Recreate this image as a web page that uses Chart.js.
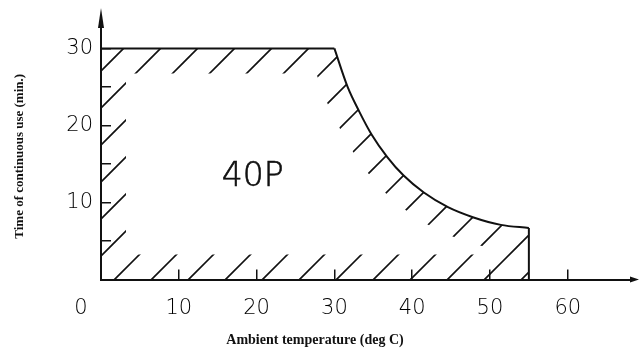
<!DOCTYPE html>
<html>
<head>
<meta charset="utf-8">
<script src="https://cdn.jsdelivr.net/npm/chart.js@4"></script>
<style>
  html, body { margin:0; padding:0; background:#fff; }
</style>
</head>
<body>
<canvas id="myChart" width="640" height="360"></canvas>
<script>
// top flat limit, curved derating and the drop at 55 deg C
let topTemp = [0, 30];
let topTime = [30, 30];
let curveTemp = [30, 31.7, 33.2, 34.8, 36.8, 38.9, 41.5, 44.6, 47.8, 51.4, 55];
let curveTime = [30, 25.0, 21.8, 18.8, 15.9, 13.5, 11.3, 9.4, 8.1, 7.1, 6.7];
let dropTemp = [55, 55];
let dropTime = [6.7, 0];

let xTicks = [0, 10, 20, 30, 40, 50, 60];
let yTicks = [5, 10, 15, 20, 25, 30];
let regionLabel = '40P';
let labelAt = {x: 19.5, y: 13.2};

let ink = '#111';
let thin = "'DejaVu Sans', sans-serif";
let serif = "'Liberation Serif', 'DejaVu Serif', serif";

function pairs(xs, ys){
  return xs.map((v, i) => ({x: v, y: ys[i]}));
}

function makeHatch(ctx){
  let c = document.createElement('canvas');
  c.width = 37; c.height = 37;
  let g = c.getContext('2d');
  g.strokeStyle = ink;
  g.lineWidth = 1.6;
  g.beginPath();
  g.moveTo(-5, 29); g.lineTo(29, -5);
  g.moveTo(18, 43); g.lineTo(43, 18);
  g.stroke();
  return ctx.createPattern(c, 'repeat');
}

let hatchPlugin = {
  id: 'hatch',
  afterDatasetsDraw(chart){
    let {ctx, scales: {x, y}} = chart;
    let pts = chart.getDatasetMeta(1).data;
    ctx.save();
    ctx.beginPath();
    ctx.moveTo(x.getPixelForValue(0), y.getPixelForValue(0));
    ctx.lineTo(x.getPixelForValue(topTemp[0]), y.getPixelForValue(topTime[0]));
    ctx.lineTo(x.getPixelForValue(topTemp[1]), y.getPixelForValue(topTime[1]));
    ctx.lineTo(pts[0].x, pts[0].y);
    for(let i = 1; i < pts.length; i++){
      let p = pts[i-1], c = pts[i];
      ctx.bezierCurveTo(p.cp2x, p.cp2y, c.cp1x, c.cp1y, c.x, c.y);
    }
    ctx.lineTo(x.getPixelForValue(dropTemp[1]), y.getPixelForValue(dropTime[1]));
    ctx.closePath();
    ctx.clip();
    ctx.lineWidth = 50;
    ctx.lineJoin = 'round';
    ctx.strokeStyle = makeHatch(ctx);
    ctx.stroke();
    ctx.restore();

    // region name
    ctx.save();
    ctx.fillStyle = ink;
    ctx.strokeStyle = ink;
    ctx.lineWidth = 0.6;
    ctx.font = '200 33px ' + thin;
    ctx.textAlign = 'center';
    ctx.textBaseline = 'middle';
    let lx = x.getPixelForValue(labelAt.x), ly = y.getPixelForValue(labelAt.y);
    ctx.fillText(regionLabel, lx, ly);
    ctx.strokeText(regionLabel, lx, ly);
    ctx.restore();
  }
};

let arrowPlugin = {
  id: 'arrows',
  afterDraw(chart){
    let {ctx, chartArea: a} = chart;
    ctx.save();
    ctx.strokeStyle = ink;
    ctx.fillStyle = ink;
    ctx.lineWidth = 2;
    // y axis arrow
    ctx.beginPath();
    ctx.moveTo(a.left, a.top);
    ctx.lineTo(a.left, a.top - 10);
    ctx.stroke();
    ctx.beginPath();
    ctx.moveTo(a.left, a.top - 25);
    ctx.lineTo(a.left - 3, a.top - 5);
    ctx.lineTo(a.left + 3, a.top - 5);
    ctx.closePath();
    ctx.fill();
    // x axis arrow
    ctx.beginPath();
    ctx.moveTo(a.right, a.bottom);
    ctx.lineTo(a.right + 9, a.bottom);
    ctx.lineTo(a.right, a.bottom - 3);
    ctx.lineTo(a.right, a.bottom + 3);
    ctx.lineTo(a.right + 9, a.bottom);
    ctx.fill();
    ctx.restore();
  }
};

let lineStyle = {borderColor: ink, backgroundColor: ink, borderWidth: 2, pointRadius: 0, fill: false, tension: 0};

let settings = {
  type: 'line',
  data: {
    datasets: [
      Object.assign({data: pairs(topTemp, topTime)}, lineStyle),
      Object.assign({data: pairs(curveTemp, curveTime), cubicInterpolationMode: 'monotone'}, lineStyle),
      Object.assign({data: pairs(dropTemp, dropTime)}, lineStyle)
    ]
  },
  options: {
    responsive: false,
    animation: false,
    devicePixelRatio: 1,
    layout: {padding: {top: 33, right: 10, left: 0, bottom: 0}},
    plugins: {
      legend: {display: false},
      tooltip: {enabled: false},
      title: {
        display: true,
        position: 'bottom',
        text: 'Ambient temperature (deg C)',
        color: ink,
        font: {family: serif, size: 14, weight: 'bold'},
        padding: {top: 10, bottom: 11}
      }
    },
    scales: {
      x: {
        type: 'linear',
        min: 0,
        max: 68,
        afterBuildTicks: s => { s.ticks = xTicks.map(v => ({value: v})); },
        afterFit: s => { s.height = 42.6; },
        border: {display: true, color: ink, width: 2},
        grid: {drawOnChartArea: false, drawTicks: true, tickLength: -10, color: ink, lineWidth: 1.5},
        ticks: {
          color: '#000',
          padding: 26,
          maxRotation: 0,
          font: {family: thin, size: 21, weight: '200'},
          callback: v => v === 0 ? '0      ' : String(v)
        }
      },
      y: {
        type: 'linear',
        min: 0,
        max: 32,
        afterBuildTicks: s => { s.ticks = yTicks.map(v => ({value: v})); },
        afterFit: s => { s.width = 101; },
        border: {display: true, color: ink, width: 2},
        grid: {drawOnChartArea: false, drawTicks: true, tickLength: -10, color: ink, lineWidth: 1.5},
        ticks: {
          color: '#000',
          padding: 18,
          font: {family: thin, size: 21, weight: '200'},
          callback: v => v % 10 === 0 ? String(v) : ''
        },
        title: {
          display: true,
          text: 'Time of continuous use (min.)',
          color: ink,
          font: {family: serif, size: 13, weight: 'bold'},
          padding: {top: 12, bottom: 0}
        }
      }
    }
  },
  plugins: [hatchPlugin, arrowPlugin]
};

window.onload = function(){
  window.chart = new Chart('myChart', settings);
};
</script>
</body>
</html>
